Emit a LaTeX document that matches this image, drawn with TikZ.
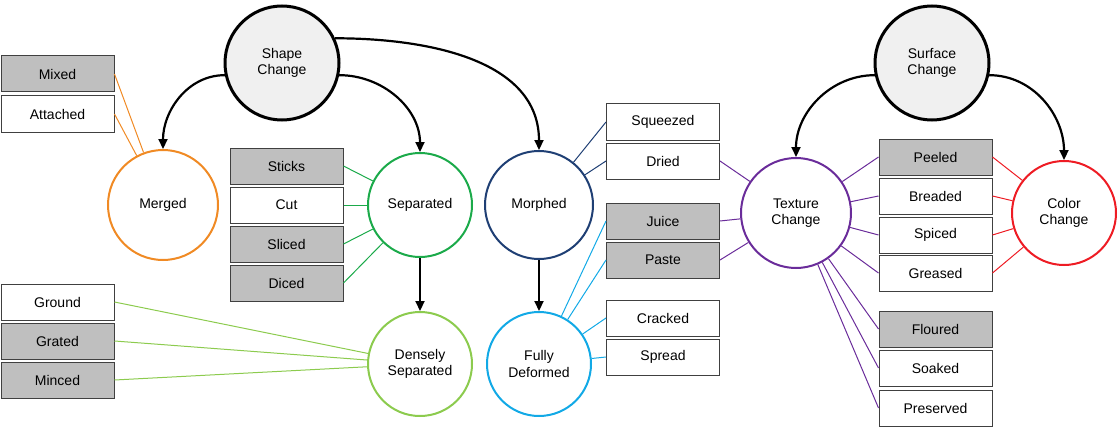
\documentclass[tikz,border=0pt]{standalone}
\usepackage{fontspec}
\setmainfont{Liberation Sans}
\usetikzlibrary{arrows.meta}
\definecolor{cOr}{HTML}{F08A24}
\definecolor{cGr}{HTML}{1BAA4A}
\definecolor{cLg}{HTML}{8CCB4E}
\definecolor{cDb}{HTML}{1F3F74}
\definecolor{cCy}{HTML}{12A9E6}
\definecolor{cPu}{HTML}{6A2C9A}
\definecolor{cRd}{HTML}{EE1C24}
\definecolor{boxg}{HTML}{BFBFBF}
\begin{document}
\begin{tikzpicture}[x=1pt,y=-1pt,
  every node/.style={font=\fontsize{14}{16.5}\selectfont, align=center},
  ring/.style={circle, draw, line width=2pt, fill=white, inner sep=0pt},
  top/.style={ring, draw=black, line width=3pt, fill=black!6, minimum size=114pt},
  bx/.style={rectangle, draw=black!75, line width=1pt, minimum width=113pt, minimum height=36pt, inner sep=0pt},
  gb/.style={bx, fill=boxg},
  wb/.style={bx, fill=white},
  arr/.style={line width=2.2pt, -{Triangle[length=10pt,width=9pt]}},
  ln/.style={line width=1pt}]
\useasboundingbox (0,0) rectangle (1120,428);
% boxes
\node[gb] (mixed) at (57.5,74) {Mixed};
\node[wb] (att) at (57.5,114) {Attached};
\node[gb] (sticks) at (286.5,166) {Sticks};
\node[wb] (cut) at (286.5,205) {Cut};
\node[gb] (sliced) at (286.5,244) {Sliced};
\node[gb] (diced) at (286.5,283) {Diced};
\node[wb] (ground) at (57.5,302) {Ground};
\node[gb] (grated) at (57.5,341) {Grated};
\node[gb] (minced) at (57.5,380) {Minced};
\node[wb] (squ) at (663,122) {Squeezed};
\node[wb] (dried) at (663,161) {Dried};
\node[gb] (juice) at (663,221) {Juice};
\node[gb] (paste) at (663,260) {Paste};
\node[wb] (cracked) at (663,318) {Cracked};
\node[wb] (spread) at (663,357) {Spread};
\node[gb] (peeled) at (935.5,157) {Peeled};
\node[wb] (breaded) at (935.5,196) {Breaded};
\node[wb] (spiced) at (935.5,235) {Spiced};
\node[wb] (greased) at (935.5,273) {Greased};
\node[gb] (floured) at (935.5,329) {Floured};
\node[wb] (soaked) at (935.5,368) {Soaked};
\node[wb] (pres) at (935.5,408) {Preserved};
% circles
\node[top] (shape) at (282,63) {Shape\\Change};
\node[top] (surf) at (932,63) {Surface\\Change};
\node[ring, draw=cOr, minimum size=110pt] (merged) at (163,205) {Merged};
\node[ring, draw=cGr, minimum size=104pt] (sep) at (420,205) {Separated};
\node[ring, draw=cDb, minimum size=108pt] (morph) at (539,205) {Morphed};
\node[ring, draw=cPu, minimum size=110pt] (tex) at (796,213) {Texture\\Change};
\node[ring, draw=cRd, minimum size=104pt] (color) at (1064,213) {Color\\Change};
\node[ring, draw=cLg, minimum size=104pt] (dense) at (420,364) {Densely\\Separated};
\node[ring, draw=cCy, minimum size=104pt] (full) at (539,364) {Fully\\Deformed};
% connectors
\begin{scope}[on background layer/.style={}]
\foreach \b in {mixed,att} \draw[ln, cOr] (\b.east) -- (merged);
\foreach \b in {sticks,cut,sliced,diced} \draw[ln, cGr] (\b.east) -- (sep);
\foreach \b in {ground,grated,minced} \draw[ln, cLg] (\b.east) -- (dense);
\foreach \b in {squ,dried} \draw[ln, cDb] (\b.west) -- (morph);
\foreach \b in {juice,paste,cracked,spread} \draw[ln, cCy] (\b.west) -- (full);
\foreach \b in {dried,juice,paste} \draw[ln, cPu] (\b.east) -- (tex);
\foreach \b in {peeled,breaded,spiced,greased,floured,soaked,pres} \draw[ln, cPu] (\b.west) -- (tex);
\foreach \b in {peeled,breaded,spiced,greased} \draw[ln, cRd] (\b.east) -- (color);
\end{scope}
\draw[arr] (shape.192) to[out=180,in=90] (merged.north);
\draw[arr] (shape.-12) to[out=0,in=90] (sep.north);
\draw[arr] (shape.25) to[out=0,in=90] (morph.north);
\draw[arr] (surf.192) to[out=180,in=90] (tex.north);
\draw[arr] (surf.-12) to[out=0,in=90] (color.north);
\draw[arr] (sep.south) -- (dense.north);
\draw[arr] (morph.south) -- (full.north);
\end{tikzpicture}
\end{document}
